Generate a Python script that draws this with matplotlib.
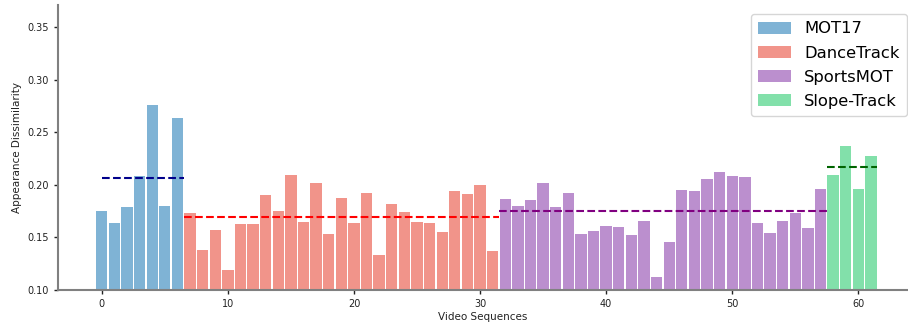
import matplotlib
matplotlib.use("Agg")
import matplotlib.pyplot as plt
import numpy as np

# per-sequence appearance dissimilarity, grouped by dataset
mot17 = [0.1748, 0.1634, 0.1786, 0.2081, 0.2756, 0.1795, 0.2632]
dancetrack = [0.1729, 0.1377, 0.1567, 0.1187, 0.1624, 0.1624, 0.1900, 0.1748,
              0.2090, 0.1643, 0.2014, 0.1529, 0.1872, 0.1634, 0.1919, 0.1330,
              0.1814, 0.1738, 0.1643, 0.1634, 0.1548, 0.1938, 0.1910, 0.1995,
              0.1368]
sportsmot = [0.1862, 0.1795, 0.1852, 0.2014, 0.1786, 0.1919, 0.1529, 0.1558,
             0.1605, 0.1596, 0.1520, 0.1653, 0.1120, 0.1453, 0.1948, 0.1938,
             0.2052, 0.2119, 0.2081, 0.2071, 0.1634, 0.1539, 0.1653, 0.1729,
             0.1586, 0.1957]
slopetrack = [0.2090, 0.2366, 0.1957, 0.2271]

names = ["MOT17", "DanceTrack", "SportsMOT", "Slope-Track"]
groups = [mot17, dancetrack, sportsmot, slopetrack]
bar_colors = ["#7FB3D5", "#F1948A", "#BB8FCE", "#82E0AA"]
mean_colors = ["darkblue", "red", "purple", "darkgreen"]

fig = plt.figure(figsize=(9.08, 3.25), dpi=100)
ax = fig.add_axes([58 / 908, 35 / 325, 850 / 908, 285 / 325])

start = 0
for name, vals, c, mc in zip(names, groups, bar_colors, mean_colors):
    idx = np.arange(start, start + len(vals))
    ax.bar(idx, vals, width=0.9, color=c, label=name)
    m = np.mean(vals)
    # dataset mean as a dashed line over its own sequences
    ax.hlines(m, max(start - 0.5, 0), idx[-1] + 0.5, colors=mc,
              linestyles="--", linewidth=1.5)
    start += len(vals)

ax.set_ylim(0.10, 0.371)
ax.set_xlim(-3.47, 63.94)
ax.set_xticks([0, 10, 20, 30, 40, 50, 60])
ax.set_yticks([0.10, 0.15, 0.20, 0.25, 0.30, 0.35])
ax.yaxis.set_major_formatter(matplotlib.ticker.FormatStrFormatter("%.2f"))
ax.tick_params(labelsize=7, length=3, width=1, colors="#222222")

for s in ["top", "right"]:
    ax.spines[s].set_visible(False)
for s in ["left", "bottom"]:
    ax.spines[s].set_color("gray")
    ax.spines[s].set_linewidth(1.5)

ax.set_xlabel("Video Sequences", fontsize=7.5, labelpad=2, color="#222222")
ax.set_ylabel("Appearance Dissimilarity", fontsize=7.5, labelpad=4, color="#222222")

leg = ax.legend(loc="upper right", fontsize=11.8, frameon=True,
                bbox_to_anchor=(0.999, 0.968), borderaxespad=0,
                handlelength=2.0, handleheight=0.8, borderpad=0.45,
                labelspacing=0.55)
leg.get_frame().set_edgecolor("#cccccc")

fig.savefig("out.png", dpi=100)
